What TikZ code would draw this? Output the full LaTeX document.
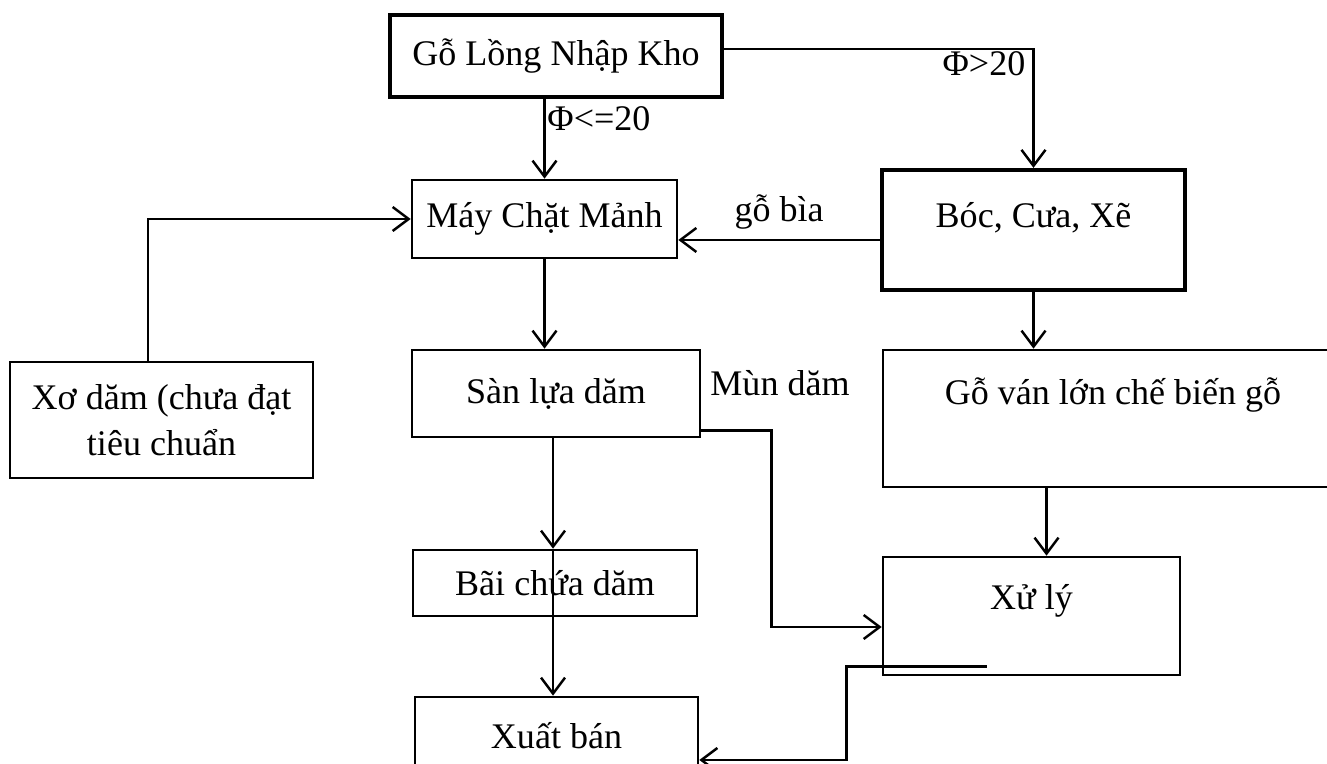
\documentclass[tikz,border=0pt]{standalone}
\usepackage{fontspec}
\setmainfont{Liberation Serif}
\usetikzlibrary{arrows.meta,positioning,calc}

\begin{document}
\begin{tikzpicture}[
        blk/.style={draw, rectangle, line width=1.5pt, inner sep=0pt, align=center, font=\fontsize{20.5}{26}\selectfont},
        lbl/.style={font=\fontsize{20.5}{24}\selectfont, inner sep=1pt},
        arr/.style={-{Straight Barb[length=3.2mm, width=4.8mm, line width=1.4pt]}, line width=1.4pt}
    ]
        \useasboundingbox (0,0) rectangle (26.54,15.28);
        \clip (0,0) rectangle (26.54,15.28);
        \fill[white] (0,0) rectangle (26.54,15.28);

        \node[blk, line width=2pt, minimum width=6.64cm, minimum height=1.64cm] (kho) at (11.12,14.16) {Gỗ Lồng Nhập Kho};
        \node[blk, minimum width=5.3cm, minimum height=1.56cm] (may) at (10.89,10.90) {Máy Chặt Mảnh};
        \node[blk, line width=2.4pt, minimum width=6.06cm, text height=1.16cm, text depth=1.24cm] (boc) at (20.67,10.68) {Bóc, Cưa, Xẽ};
        \node[blk, minimum width=6.06cm, minimum height=2.32cm] (xo) at (3.23,6.88) {Xơ dăm (chưa đạt\\tiêu chuẩn};
        \node[blk, minimum width=5.76cm, minimum height=1.74cm] (san) at (11.12,7.41) {Sàn lựa dăm};
        \node[blk, minimum width=9.2cm, text height=1.1cm, text depth=1.64cm] (govan) at (22.26,6.91) {Gỗ ván lớn chế biến gỗ};
        \node[blk, minimum width=5.94cm, text height=1.06cm, text depth=1.3cm] (xuly) at (20.63,2.96) {Xử lý};
        \node[blk, minimum width=5.68cm, minimum height=1.32cm] (bai) at (11.10,3.62) {Bãi chứa dăm};
        \node[blk, minimum width=5.66cm, minimum height=1.56cm] (xuat) at (11.13,0.56) {Xuất bán};
        \node[lbl] (mun) at (15.6,7.62) {Mùn dăm};

        \draw[arr] ([yshift=0.14cm]kho.east) -| node[lbl, pos=0.42, below] (lon) {Φ>20} (boc.north);
        \draw[arr] (kho.south -| may.north) -- node[lbl, pos=0, anchor=north west, yshift=-0.1cm] (nho) {Φ<=20} (may.north);
        \draw[arr] ([yshift=-0.2cm]boc.west) -- node[lbl, above=0.15cm] (bia) {gỗ bìa} ([yshift=-0.2cm]boc.west -| may.east);
        \draw[arr] ([xshift=-0.27cm]xo.north) |- (may.west);
        \draw[arr] (may.south) -- (may.south |- san.north);
        \draw[arr] ([xshift=-0.06cm]san.south) -- ([xshift=-0.06cm]san.south |- bai.north);
        \draw[arr] ([xshift=-0.04cm]bai.north) -- ([xshift=-0.04cm]bai.north |- xuat.north);
        \draw[arr] ([yshift=-0.74cm]san.east) -- ++(1.4,0) |- ([yshift=-0.22cm]xuly.west);
        \draw[arr] (boc.south) -- (boc.south |- govan.north);
        \draw[arr] ([xshift=0.3cm]xuly.north |- govan.south) -- ([xshift=0.3cm]xuly.north);
        \draw[arr] ([shift={(2.1,0.2)}]xuly.south west) -- ++(-2.8,0) |- ([yshift=-0.48cm]xuat.east);
    \end{tikzpicture}
\end{document}
